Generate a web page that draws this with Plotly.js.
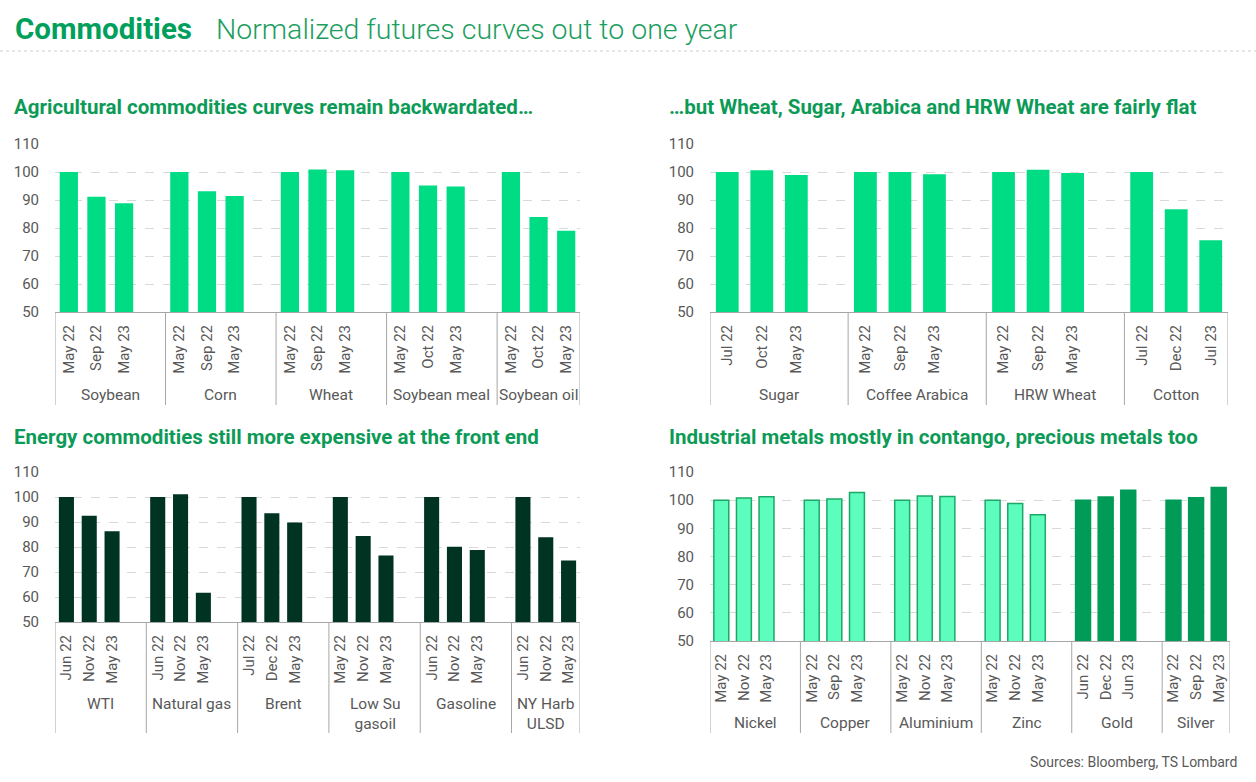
<!DOCTYPE html>
<html><head><meta charset="utf-8">
<script src="https://cdn.plot.ly/plotly-3.0.1.min.js"></script>
<style>html,body{margin:0;padding:0;background:#fff}#chart{width:1256px;height:782px}</style>
</head><body><div id="chart"></div>
<script>
// ---------------- DATA ----------------
const agriGroups = ['Soybean', 'Corn', 'Wheat', 'Soybean meal', 'Soybean oil'];
const agriMonths = [['May 22','Sep 22','May 23'],['May 22','Sep 22','May 23'],['May 22','Sep 22','May 23'],['May 22','Oct 22','May 23'],['May 22','Oct 22','May 23']];
const agriValues = [[100, 91.2, 88.8],[100, 93.1, 91.4],[100, 100.9, 100.6],[100, 95.2, 94.8],[100, 83.9, 79.0]];

const softGroups = ['Sugar', 'Coffee Arabica', 'HRW Wheat', 'Cotton'];
const softMonths = [['Jul 22','Oct 22','May 23'],['May 22','Sep 22','May 23'],['May 22','Sep 22','May 23'],['Jul 22','Dec 22','Jul 23']];
const softValues = [[100, 100.6, 98.9],[100, 100.0, 99.2],[100, 100.8, 99.6],[100, 86.7, 75.6]];

const energyGroups = ['WTI', 'Natural gas', 'Brent', 'Low Su<br>gasoil', 'Gasoline', 'NY Harb<br>ULSD'];
const energyMonths = [['Jun 22','Nov 22','May 23'],['Jun 22','Nov 22','May 23'],['Jul 22','Dec 22','May 23'],['May 22','Nov 22','May 23'],['Jun 22','Nov 22','May 23'],['Jun 22','Nov 22','May 23']];
const energyValues = [[100, 92.5, 86.3],[100, 101.1, 61.7],[100, 93.5, 89.8],[100, 84.4, 76.6],[100, 80.1, 78.8],[100, 83.9, 74.6]];

const metalGroups = ['Nickel', 'Copper', 'Aluminium', 'Zinc', 'Gold', 'Silver'];
const metalMonths = [['May 22','Nov 22','May 23'],['May 22','Sep 22','May 23'],['May 22','Nov 22','May 23'],['May 22','Nov 22','May 23'],['Jun 22','Dec 22','Jun 23'],['May 22','Sep 22','May 23']];
const metalValues = [[100, 100.8, 101.2],[100, 100.4, 102.7],[100, 101.5, 101.3],[100, 98.8, 94.8],[100, 101.1, 103.5],[100, 100.9, 104.5]];
const preciousMetals = ['Gold', 'Silver'];

const yTicks = [50, 60, 70, 80, 90, 100, 110];

const mainTitle = 'Commodities';
const mainSubtitle = 'Normalized futures curves out to one year';
const panelTitles = ['Agricultural commodities curves remain backwardated…', '…but Wheat, Sugar, Arabica and HRW Wheat are fairly flat', 'Energy commodities still more expensive at the front end', 'Industrial metals mostly in contango, precious metals too'];
const sourceText = 'Sources: Bloomberg, TS Lombard';

// ---------------- STYLE / LAYOUT ----------------
const W = 1256, H = 782;
const px = v => v / W, py = v => 1 - v / H;
const FONT = 'Roboto, "Open Sans", sans-serif';
const TXT = '#595959', AXIS = '#a6a6a6', GRID = '#d9d9d9';

const panels = [
  {groups: agriGroups, months: agriMonths, values: agriValues, box: [55, 144, 580, 312], sepBottom: 405, labelTop: 384, titleX: 12, titleY: 107,
   color: () => ['#00DC84', '#00DC84']},
  {groups: softGroups, months: softMonths, values: softValues, box: [710, 144, 1228, 312], sepBottom: 405, labelTop: 384, titleX: 667, titleY: 107,
   color: () => ['#00DC84', '#00DC84']},
  {groups: energyGroups, months: energyMonths, values: energyValues, box: [55, 472, 580, 622], sepBottom: 733, labelTop: 693, titleX: 12, titleY: 437,
   color: () => ['#003321', '#003321']},
  {groups: metalGroups, months: metalMonths, values: metalValues, box: [710, 472, 1230, 641], sepBottom: 733, labelTop: 712, titleX: 667, titleY: 437,
   color: g => preciousMetals.includes(g) ? ['#009B57', '#009B57'] : ['#5DFDBE', '#1CA866']}
];

const data = [];
const layout = {
  width: W, height: H, margin: {l: 0, r: 0, t: 0, b: 0},
  paper_bgcolor: '#fff', plot_bgcolor: 'rgba(0,0,0,0)',
  showlegend: false, font: {family: FONT, color: TXT, size: 15},
  shapes: [], annotations: []
};

panels.forEach((p, k) => {
  const n = k + 1;
  const xa = n === 1 ? 'x' : 'x' + n, ya = n === 1 ? 'y' : 'y' + n;
  const xs = [], ys = [], fills = [], lines = [], tv = [], tt = [];
  p.groups.forEach((g, gi) => {
    const [fc, lc] = p.color(g);
    p.values[gi].forEach((v, i) => {
      xs.push(gi * 4 + i); ys.push(v); fills.push(fc); lines.push(lc);
      tv.push(gi * 4 + i); tt.push(p.months[gi][i]);
    });
  });
  const nSlots = p.groups.length * 4 - 1;
  data.push({type: 'bar', x: xs, y: ys, xaxis: xa, yaxis: ya, width: 0.66,
    marker: {color: fills, line: {color: lines, width: k === 3 ? 1.5 : 0}}, hoverinfo: 'x+y'});
  const [l, t, r, b] = p.box;
  layout['xaxis' + (n === 1 ? '' : n)] = {
    domain: [px(l), px(r)], anchor: ya, range: [-0.5, nSlots - 0.5], type: 'linear',
    tickvals: tv, ticktext: tt, tickangle: -90, ticks: 'outside', ticklen: 6, tickcolor: 'rgba(0,0,0,0)',
    showline: true, linecolor: AXIS, linewidth: 1, showgrid: false, zeroline: false,
    tickfont: {family: FONT, size: 15, color: TXT}, fixedrange: true
  };
  layout['yaxis' + (n === 1 ? '' : n)] = {
    domain: [py(b), py(t)], anchor: xa, range: [50, 110], tickvals: yTicks,
    showgrid: true, gridcolor: GRID, griddash: 'dash', gridwidth: 1, zeroline: false, showline: false,
    ticks: 'outside', ticklen: 12, tickcolor: 'rgba(0,0,0,0)',
    tickfont: {family: FONT, size: 15, color: TXT}, fixedrange: true
  };
  // group separators
  const seps = p.groups.map((g, gi) => gi * 4 - 0.5).concat([nSlots - 0.5]);
  seps.forEach(sx => layout.shapes.push({type: 'line', xref: xa, yref: 'paper', x0: sx, x1: sx, y0: py(b), y1: py(p.sepBottom),
    line: {color: AXIS, width: 1}}));
  // group labels
  p.groups.forEach((g, gi) => {
    const left = gi * 4 - 0.5, right = Math.min(gi * 4 + 3.5, nSlots - 0.5);
    layout.annotations.push({xref: xa, yref: 'paper', x: (left + right) / 2, y: py(p.labelTop), yanchor: 'top', xanchor: 'center',
      text: g, showarrow: false, font: {family: FONT, size: 15.5, color: TXT}});
  });
  // panel title
  layout.annotations.push({xref: 'paper', yref: 'paper', x: px(p.titleX), y: py(p.titleY), xanchor: 'left', yanchor: 'middle',
    text: '<b>' + panelTitles[k] + '</b>', showarrow: false, font: {family: FONT, size: 20.5, color: '#0C9A57'}});
});

// header
layout.annotations.push({xref: 'paper', yref: 'paper', x: px(13), y: py(29), xanchor: 'left', yanchor: 'middle',
  text: '<b>' + mainTitle + '</b>', showarrow: false, font: {family: FONT, size: 29.5, color: '#00A05C'}});
layout.annotations.push({xref: 'paper', yref: 'paper', x: px(214), y: py(29), xanchor: 'left', yanchor: 'middle',
  text: mainSubtitle, showarrow: false, font: {family: 'Roboto', size: 28.5, color: '#1B9E60', weight: 300}});
layout.shapes.push({type: 'line', xref: 'paper', yref: 'paper', x0: 0, x1: 1, y0: py(51), y1: py(51),
  line: {color: '#cfcfcf', width: 1, dash: 'dot'}});
layout.annotations.push({xref: 'paper', yref: 'paper', x: px(1239), y: py(762), xanchor: 'right', yanchor: 'middle',
  text: sourceText, showarrow: false, font: {family: FONT, size: 14, color: TXT}});

Plotly.newPlot('chart', data, layout, {displayModeBar: false, staticPlot: true});
</script></body></html>
